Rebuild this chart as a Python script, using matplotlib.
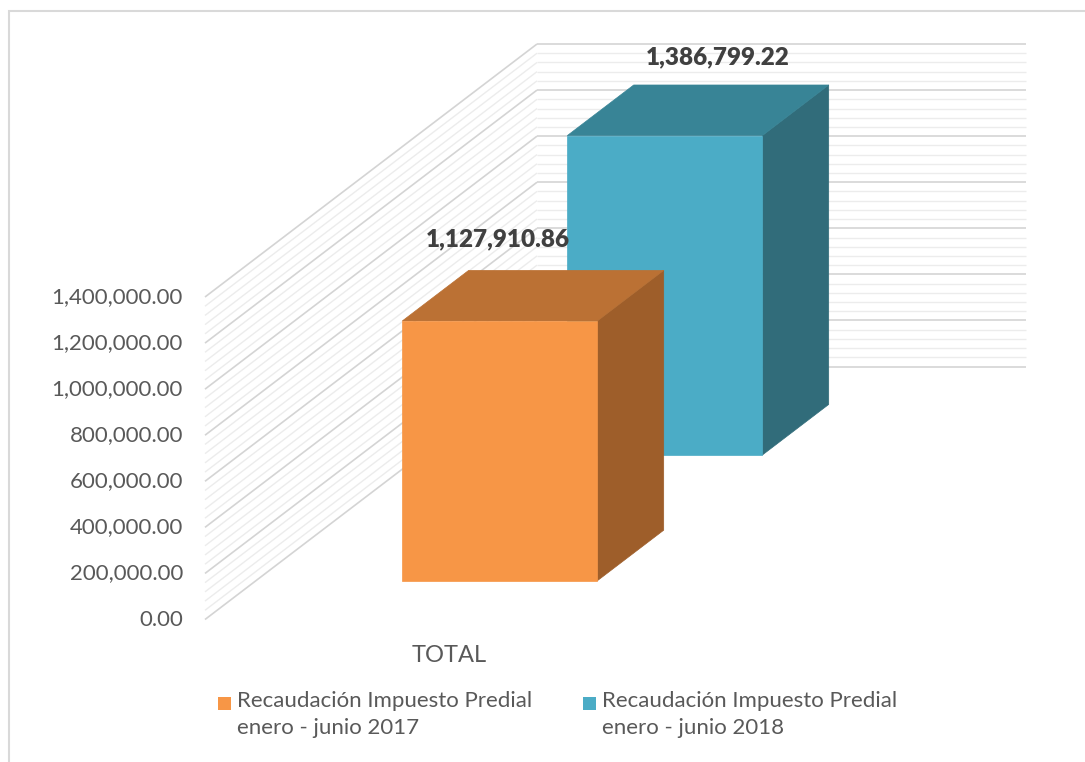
import matplotlib
matplotlib.use("Agg")
import matplotlib.pyplot as plt
from matplotlib.patches import Polygon, Rectangle

# ---------------- data ----------------
categories = ["TOTAL"]
series_names = ["Recaudación Impuesto Predial\nenero - junio 2017",
                "Recaudación Impuesto Predial\nenero - junio 2018"]
series_values = [1127910.86, 1386799.22]
value_labels = ["1,127,910.86", "1,386,799.22"]
tick_values = [0, 200000, 400000, 600000, 800000, 1000000, 1200000, 1400000]
tick_labels = ["0.00", "200,000.00", "400,000.00", "600,000.00", "800,000.00",
               "1,000,000.00", "1,200,000.00", "1,400,000.00"]
minor_step = 40000

# ---------------- styles / geometry ----------------
W, H = 1085, 762
FONT = ["Lato", "DejaVu Sans"]
front_colors = ["#F79646", "#4BACC6"]
top_colors = ["#BB7134", "#388496"]
side_colors = ["#9E5E2A", "#316C7A"]

zero_px, top_px = 619.5, 297.0
k = (zero_px - top_px) / 1400000.0      # pixels per value unit
wall_x0 = 205.0                          # front edge of side wall (px)
DX = 332.0                               # full depth x offset (px)
DY_PX = 253.0                            # full depth y offset (px)
DYV = DY_PX / k                          # full depth offset in value units
back_right = 1026.0
cat_center = 449.0
bar_width = 195.0
depth_front = [0.153, 0.650]
bar_depth = 0.2

fig = plt.figure(figsize=(W / 100, H / 100), dpi=100)
ax = fig.add_axes([0, 0, 1, 1])
ax.set_xlim(0, W)
ax.set_ylim(-(H - zero_px) / k, zero_px / k)
ax.axis("off")

def P(x, v, d):
    return (x + d * DX, v + d * DYV)

def px(xp, yp):
    # figure pixel (from top-left) -> data coords
    return (xp, (zero_px - yp) / k)

# border
bx0, by0 = px(8.5, 11)
bx1, by1 = px(W + 5, H + 5)
ax.add_patch(Rectangle((bx0, by1), bx1 - bx0, by0 - by1, fill=False,
                       edgecolor="#d9d9d9", lw=1.5, zorder=0))

# gridlines (side wall + back wall)
vmax = tick_values[-1]
v = 0
while v <= vmax + 1:
    major = (round(v) % 200000 == 0)
    col = "#d4d4d4" if major else "#ececec"
    lw = 1.2 if major else 1.0
    a = P(wall_x0, v, 0)
    b = P(wall_x0, v, 1)
    ax.plot([a[0], b[0]], [a[1], b[1]], color=col, lw=lw, zorder=1,
            solid_capstyle="butt")
    ax.plot([b[0], back_right], [b[1], b[1]], color=col, lw=lw, zorder=1,
            solid_capstyle="butt")
    v += minor_step

# tick labels
for tv, tl in zip(tick_values, tick_labels):
    ax.text(183, tv, tl, ha="right", va="center", fontsize=16,
            color="#595959", family=FONT)

# bars (back series first)
label_dx = [-2, 53]
label_gap = [31, 28]
for i in reversed(range(len(series_values))):
    val = series_values[i]
    df = depth_front[i]
    db = df + bar_depth
    xl = cat_center - bar_width / 2
    xr = cat_center + bar_width / 2
    z = 3 + (len(series_values) - i)
    front = [P(xl, 0, df), P(xr, 0, df), P(xr, val, df), P(xl, val, df)]
    top = [P(xl, val, df), P(xr, val, df), P(xr, val, db), P(xl, val, db)]
    side = [P(xr, 0, df), P(xr, 0, db), P(xr, val, db), P(xr, val, df)]
    ax.add_patch(Polygon(side, closed=True, facecolor=side_colors[i],
                         edgecolor=side_colors[i], lw=0.5, zorder=z))
    ax.add_patch(Polygon(top, closed=True, facecolor=top_colors[i],
                         edgecolor=top_colors[i], lw=0.5, zorder=z))
    ax.add_patch(Polygon(front, closed=True, facecolor=front_colors[i],
                         edgecolor=front_colors[i], lw=0.5, zorder=z))
    lx, _ = P(cat_center + label_dx[i], val, df)
    _, ly = P(cat_center, val, db)
    ax.text(lx, ly + label_gap[i] / k, value_labels[i], ha="center",
            va="center", fontsize=17.5, fontweight="heavy", color="#404040",
            family=FONT, zorder=10)

# category label
ax.text(cat_center, px(0, 656)[1], categories[0], ha="center", va="center",
        fontsize=17, color="#595959", family=FONT)

# legend
leg_x = [218, 583]
for i, name in enumerate(series_names):
    sx, sy = px(leg_x[i], 710)
    ax.add_patch(Rectangle((sx, sy), 13, 13 / k, facecolor=front_colors[i],
                           edgecolor="none", zorder=5))
    ax.text(leg_x[i] + 19, px(0, 691)[1], name, ha="left", va="top",
            fontsize=16, color="#595959", family=FONT, linespacing=1.42)

fig.savefig("out.png", dpi=100)
